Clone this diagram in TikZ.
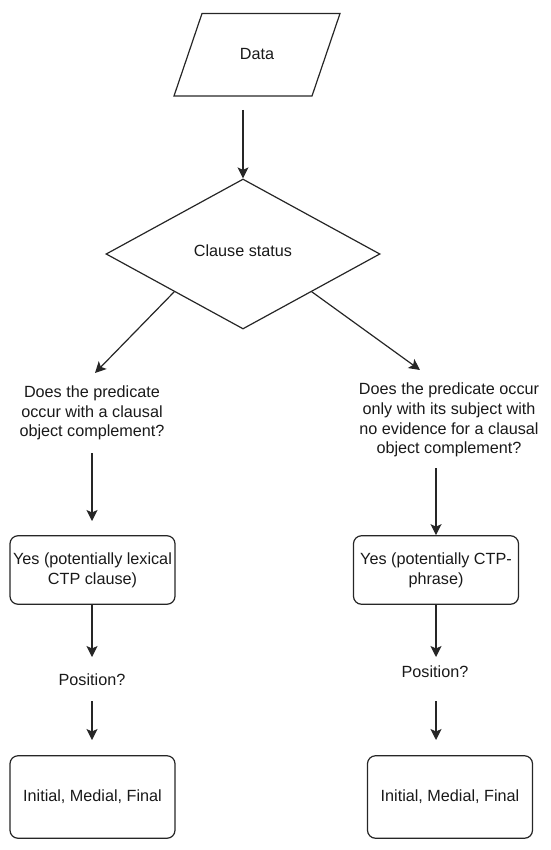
\documentclass[tikz,border=0pt]{standalone}
\usepackage{fontspec}
\setmainfont{Liberation Sans}
\usetikzlibrary{shapes.geometric,arrows.meta}
\begin{document}
\begin{tikzpicture}[x=1pt,y=-1pt,
  line width=1.2pt, draw=black!85,
  every node/.style={font=\fontsize{16.2}{19.7}\selectfont, text=black!90},
  txt/.style={align=center, inner sep=0pt},
  roundbox/.style={draw, rounded corners=8pt, align=center, inner sep=2pt, minimum width=165pt},
  arr/.style={-{Stealth[length=11pt,width=11pt,inset=2.5pt]}}]
\useasboundingbox (0,0) rectangle (550,850);
% parallelogram
\draw (202,13.5) -- (340,13.5) -- (312,96) -- (174,96) -- cycle;
\node[txt] (data) at (257,54) {Data};
% diamond
\node[draw, diamond, minimum width=274pt, minimum height=150pt, inner sep=0pt] (cs) at (243,254) {};
\node[txt] (cst) at (243,251) {Clause status};
% questions
\node[txt] (q1) at (92,413) {Does the predicate\\occur with a clausal\\object complement?};
\node[txt] (q2) at (449,420) {Does the predicate occur\\only with its subject with\\no evidence for a clausal\\object complement?};
% boxes
\node[roundbox, minimum height=68.5pt] (b1) at (92.5,570) {Yes (potentially lexical\\CTP clause)};
\node[roundbox, minimum height=68.5pt] (b2) at (436,570) {Yes (potentially CTP-\\phrase)};
\node[txt] (p1) at (92,680) {Position?};
\node[txt] (p2) at (435,672) {Position?};
\node[roundbox, minimum height=82.5pt] (f1) at (92.5,797) {Initial, Medial, Final};
\node[roundbox, minimum height=82.5pt] (f2) at (450,797) {Initial, Medial, Final};
% free ends
\coordinate (d0) at (243,110);
\coordinate (l1) at (95,373);
\coordinate (r1) at (420,370);
\coordinate (q1s) at (92,453);
\coordinate (q1e) at (92,521);
\coordinate (q2s) at (436,468);
\coordinate (b1e) at (92,657);
\coordinate (b2e) at (436,657);
\coordinate (p1s) at (92,701);
\coordinate (p1e) at (92,740);
\coordinate (p2s) at (436,701);
\coordinate (p2e) at (436,740);
% connectors
\draw[arr] (d0) -- (cs.north);
\draw[arr] (cs.south west) -- (l1);
\draw[arr] (cs.south east) -- (r1);
\draw[arr] (q1s) -- (q1e);
\draw[arr] (q2s) -- (q2s |- b2.north);
\draw[arr] (b1.south -| b1e) -- (b1e);
\draw[arr] (b2.south -| b2e) -- (b2e);
\draw[arr] (p1s) -- (p1e);
\draw[arr] (p2s) -- (p2e);
\end{tikzpicture}
\end{document}
